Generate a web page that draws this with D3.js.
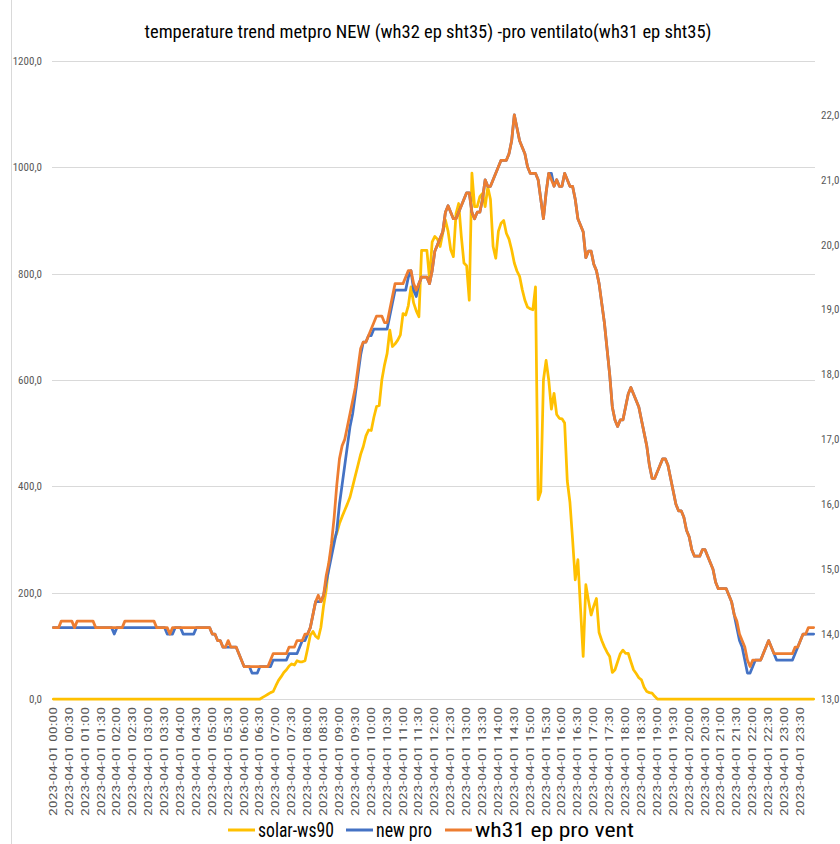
<!DOCTYPE html>
<html><head><meta charset="utf-8">
<script src="https://cdn.jsdelivr.net/npm/d3@7"></script>
<style>body{margin:0;background:#fff} svg{display:block}</style>
</head><body><svg id="c" width="840" height="844"></svg>
<script>
const title = "temperature trend metpro NEW (wh32 ep sht35) -pro ventilato(wh31 ep sht35)";
const datePrefix = "2023-04-01";
const timeLabels = ["00:00","00:30","01:00","01:30","02:00","02:30","03:00","03:30","04:00","04:30","05:00","05:30",
  "06:00","06:30","07:00","07:30","08:00","08:30","09:00","09:30","10:00","10:30","11:00","11:30",
  "12:00","12:30","13:00","13:30","14:00","14:30","15:00","15:30","16:00","16:30","17:00","17:30",
  "18:00","18:30","19:00","19:30","20:00","20:30","21:00","21:30","22:00","22:30","23:00","23:30"];
const stepMinutes = 5;
const seriesNames = ["solar-ws90", "new pro", "wh31 ep pro vent"];
const leftTicks = [0, 200, 400, 600, 800, 1000, 1200];
const rightTicks = [13, 14, 15, 16, 17, 18, 19, 20, 21, 22];

// solar-ws90 (left axis), one value every 5 minutes
const solar = [
  0,0,0,0,0,0,0,0,0,0,0,0,
  0,0,0,0,0,0,0,0,0,0,0,0,
  0,0,0,0,0,0,0,0,0,0,0,0,
  0,0,0,0,0,0,0,0,0,0,0,0,
  0,0,0,0,0,0,0,0,0,0,0,0,
  0,0,0,0,0,0,0,0,0,0,0,0,
  0,0,0,0,0,0,0,3,6,9,12,14,
  25,35,42,50,55,62,66,64,72,70,70,72,
  95,120,127,118,114,135,175,205,255,280,300,312,
  330,343,355,367,380,400,420,440,460,475,495,506,
  505,530,550,552,600,628,650,694,663,668,675,685,
  725,722,740,775,745,730,719,844,844,844,790,860,
  870,865,851,876,901,880,845,832,913,932,870,820,
  815,750,989,926,926,945,951,926,963,940,851,829,
  880,895,900,876,865,845,820,805,795,770,750,737,
  734,732,775,375,390,600,637,600,545,575,535,528,
  527,519,410,370,300,224,262,170,80,215,185,158,
  175,189,125,110,98,88,80,50,55,70,85,92,
  86,86,70,55,48,40,36,22,14,12,11,5,
  0,0,0,0,0,0,0,0,0,0,0,0,
  0,0,0,0,0,0,0,0,0,0,0,0,
  0,0,0,0,0,0,0,0,0,0,0,0,
  0,0,0,0,0,0,0,0,0,0,0,0,
  0,0,0,0,0,0,0,0,0,0,0,0
];

// new pro (right axis, °C)
const newPro = [
  14.1,14.1,14.1,14.1,14.1,14.1,14.1,14.1,14.1,14.1,14.1,14.1,
  14.1,14.1,14.1,14.1,14.1,14.1,14.1,14.1,14.1,14.1,14.1,14.0,
  14.1,14.1,14.1,14.1,14.1,14.1,14.1,14.1,14.1,14.1,14.1,14.1,
  14.1,14.1,14.1,14.1,14.1,14.1,14.1,14.0,14.0,14.0,14.1,14.1,
  14.1,14.0,14.0,14.0,14.0,14.0,14.1,14.1,14.1,14.1,14.1,14.1,
  14.0,14.0,13.9,13.9,13.8,13.8,13.8,13.8,13.8,13.8,13.7,13.6,
  13.5,13.5,13.5,13.4,13.4,13.4,13.5,13.5,13.5,13.5,13.5,13.6,
  13.6,13.6,13.6,13.6,13.6,13.7,13.7,13.7,13.7,13.8,13.9,13.9,
  14.0,14.1,14.3,14.5,14.5,14.5,14.6,14.8,15.0,15.2,15.4,15.6,
  16.0,16.3,16.6,16.9,17.2,17.4,17.7,18.0,18.3,18.5,18.5,18.6,
  18.6,18.7,18.7,18.7,18.7,18.7,18.7,18.9,19.1,19.3,19.3,19.3,
  19.3,19.3,19.5,19.6,19.3,19.2,19.4,19.5,19.5,19.5,19.4,19.6,
  19.9,20.0,20.1,20.2,20.5,20.6,20.5,20.4,20.4,20.5,20.6,20.7,
  20.8,20.8,20.5,20.4,20.5,20.5,20.7,21.0,20.9,20.9,21.0,21.1,
  21.2,21.3,21.3,21.3,21.4,21.6,22.0,21.8,21.6,21.5,21.4,21.2,
  21.1,21.1,21.1,21.0,20.7,20.4,20.8,21.1,21.1,20.9,21.0,20.9,
  20.9,21.1,21.0,20.9,20.9,20.7,20.4,20.3,20.2,19.8,19.9,19.9,
  19.7,19.6,19.4,19.1,18.8,18.4,18.0,17.5,17.3,17.2,17.3,17.3,
  17.5,17.7,17.8,17.7,17.6,17.5,17.3,17.1,16.9,16.6,16.4,16.4,
  16.5,16.6,16.7,16.7,16.6,16.4,16.2,16.0,15.9,15.9,15.8,15.6,
  15.5,15.3,15.2,15.2,15.2,15.3,15.3,15.2,15.1,15.0,14.8,14.7,
  14.7,14.7,14.7,14.6,14.5,14.3,14.1,13.9,13.8,13.6,13.4,13.4,
  13.5,13.6,13.6,13.6,13.7,13.8,13.9,13.8,13.7,13.6,13.6,13.6,
  13.6,13.6,13.6,13.6,13.7,13.8,13.9,14.0,14.0,14.0,14.0,14.0
];

// wh31 ep pro vent (right axis, °C)
const wh31 = [
  14.1,14.1,14.1,14.2,14.2,14.2,14.2,14.2,14.1,14.2,14.2,14.2,
  14.2,14.2,14.2,14.2,14.1,14.1,14.1,14.1,14.1,14.1,14.1,14.1,
  14.1,14.1,14.1,14.2,14.2,14.2,14.2,14.2,14.2,14.2,14.2,14.2,
  14.2,14.2,14.2,14.1,14.1,14.1,14.1,14.1,14.0,14.1,14.1,14.1,
  14.1,14.1,14.1,14.1,14.1,14.1,14.1,14.1,14.1,14.1,14.1,14.1,
  14.0,14.0,13.9,13.9,13.8,13.8,13.9,13.8,13.8,13.8,13.7,13.6,
  13.5,13.5,13.5,13.5,13.5,13.5,13.5,13.5,13.5,13.5,13.6,13.7,
  13.7,13.7,13.7,13.7,13.7,13.8,13.8,13.8,13.9,13.9,13.9,14.0,
  14.0,14.1,14.3,14.5,14.6,14.5,14.6,14.9,15.1,15.4,15.8,16.3,
  16.7,16.9,17.0,17.2,17.4,17.6,17.8,18.1,18.4,18.5,18.5,18.6,
  18.7,18.8,18.9,18.9,18.9,18.8,18.8,19.0,19.2,19.4,19.4,19.4,
  19.4,19.5,19.6,19.6,19.4,19.3,19.4,19.5,19.5,19.5,19.4,19.6,
  19.9,20.0,20.1,20.2,20.5,20.6,20.5,20.4,20.4,20.5,20.6,20.7,
  20.8,20.8,20.5,20.4,20.5,20.5,20.7,21.0,20.9,20.9,21.0,21.1,
  21.2,21.3,21.3,21.3,21.4,21.6,22.0,21.8,21.6,21.5,21.4,21.2,
  21.1,21.1,21.1,21.0,20.7,20.4,20.8,21.1,21.0,20.9,21.0,20.9,
  20.9,21.1,21.0,20.9,20.9,20.7,20.4,20.3,20.2,19.8,19.9,19.9,
  19.7,19.6,19.4,19.1,18.8,18.4,18.0,17.5,17.3,17.2,17.3,17.3,
  17.5,17.7,17.8,17.7,17.6,17.5,17.3,17.1,16.9,16.6,16.4,16.4,
  16.5,16.6,16.7,16.7,16.6,16.4,16.2,16.0,15.9,15.9,15.8,15.6,
  15.5,15.3,15.2,15.2,15.2,15.3,15.3,15.2,15.1,15.0,14.8,14.7,
  14.7,14.7,14.7,14.6,14.5,14.3,14.2,14.0,13.9,13.8,13.6,13.5,
  13.6,13.6,13.6,13.6,13.7,13.8,13.9,13.8,13.7,13.7,13.7,13.7,
  13.7,13.7,13.7,13.7,13.8,13.8,13.9,14.0,14.0,14.1,14.1,14.1
];

const colors = ["#FFC000", "#4472C4", "#ED7D31"];
const FONT = "'Liberation Sans Narrow','Arial Narrow','Roboto Condensed','Liberation Sans',sans-serif";

const svg = d3.select("#c");
const plot = {left: 52, right: 815, top: 61, bottom: 699};

const x = d3.scaleLinear().domain([0, 1440]).range([plot.left, plot.right]);
const yL = d3.scaleLinear().domain([0, 1200]).range([plot.bottom, plot.top]);
const yR = d3.scaleLinear().domain([13, 22.83]).range([plot.bottom, plot.top]);
const xc = m => x(m + stepMinutes / 2);

// chart area left border
svg.append("line").attr("x1", 11.5).attr("x2", 11.5).attr("y1", 0).attr("y2", 844)
  .attr("stroke", "#d9d9d9").attr("stroke-width", 1);

// title
svg.append("text").attr("x", 428).attr("y", 38).attr("text-anchor", "middle")
  .attr("font-family", FONT).attr("font-size", 18).attr("fill", "#000")
  .attr("textLength", 567).attr("lengthAdjust", "spacingAndGlyphs").text(title);

// gridlines
svg.append("g").selectAll("line").data(leftTicks.filter(d => d > 0)).join("line")
  .attr("x1", plot.left).attr("x2", plot.right)
  .attr("y1", d => Math.round(yL(d)) + 0.5).attr("y2", d => Math.round(yL(d)) + 0.5)
  .attr("stroke", "#d9d9d9").attr("stroke-width", 1);
svg.append("line").attr("x1", plot.left).attr("x2", plot.right)
  .attr("y1", plot.bottom + 0.5).attr("y2", plot.bottom + 0.5).attr("stroke", "#d9d9d9");

// left axis labels
const fmt = (d, p) => d.toFixed(p).replace(".", ",");
svg.append("g").selectAll("text").data(leftTicks).join("text")
  .attr("x", 42).attr("y", d => yL(d)).attr("dy", "0.35em").attr("text-anchor", "end")
  .attr("font-family", FONT).attr("font-size", 11).attr("fill", "#595959")
  .text(d => fmt(d, 1));

// right axis labels
svg.append("g").selectAll("text").data(rightTicks).join("text")
  .attr("x", 821).attr("y", d => yR(d)).attr("dy", "0.35em").attr("text-anchor", "start")
  .attr("font-family", FONT).attr("font-size", 11).attr("fill", "#595959")
  .text(d => fmt(d, 1));

// x labels
svg.append("g").selectAll("text").data(timeLabels).join("text")
  .attr("transform", (d, i) => `translate(${xc(i * 30)},707) rotate(-90)`)
  .attr("text-anchor", "end").attr("dominant-baseline", "central")
  .attr("font-family", FONT).attr("font-size", 11).attr("fill", "#595959")
  .attr("textLength", 109).attr("lengthAdjust", "spacingAndGlyphs")
  .text(d => datePrefix + " " + d);

// lines
const lineL = d3.line().x((d, i) => xc(i * stepMinutes)).y(d => yL(d));
const lineR = d3.line().x((d, i) => xc(i * stepMinutes)).y(d => yR(d));
const g = svg.append("g").attr("fill", "none").attr("stroke-width", 2.75)
  .attr("stroke-linejoin", "round").attr("stroke-linecap", "round");
g.append("path").attr("d", lineL(solar)).attr("stroke", colors[0]);
g.append("path").attr("d", lineR(newPro)).attr("stroke", colors[1]);
g.append("path").attr("d", lineR(wh31)).attr("stroke", colors[2]);

// legend
const legendX = [228, 346, 445];
const legendW = [76, 56, 159];
const lg = svg.append("g");
seriesNames.forEach((name, i) => {
  lg.append("line").attr("x1", legendX[i]).attr("x2", legendX[i] + 27)
    .attr("y1", 830).attr("y2", 830).attr("stroke", colors[i]).attr("stroke-width", 3);
  lg.append("text").attr("x", legendX[i] + 30).attr("y", 837)
    .attr("font-family", FONT).attr("font-size", 20).attr("fill", "#000")
    .attr("textLength", legendW[i]).attr("lengthAdjust", "spacingAndGlyphs").text(name);
});
</script></body></html>
